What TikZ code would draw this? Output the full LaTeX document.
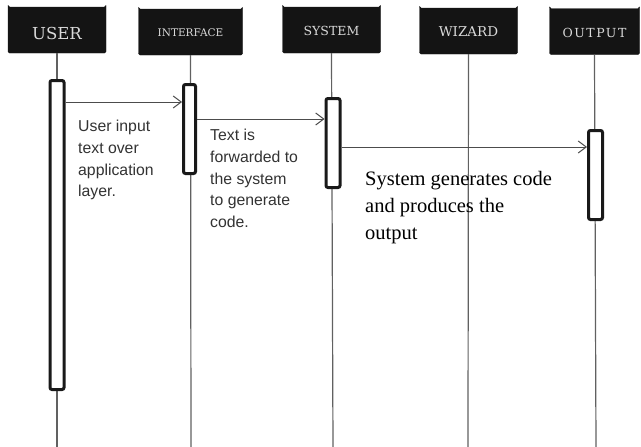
\documentclass[tikz,border=0pt]{standalone}
\usepackage{fontspec}
\usetikzlibrary{shapes.misc,arrows.meta}
\newfontfamily\bodysans{Liberation Sans}
\newfontfamily\bodyserif{Liberation Serif}
\newfontfamily\headserif{DejaVu Serif}
\newfontfamily\headspaced{DejaVu Serif}[LetterSpace=12]
\definecolor{headtext}{gray}{0.85}
\definecolor{lifegray}{gray}{0.38}
\definecolor{msggray}{gray}{0.30}
\begin{document}
\begin{tikzpicture}[x=1pt,y=-1pt,
  header/.style={chamfered rectangle, chamfered rectangle corners=north east,
    chamfered rectangle xsep=7pt, chamfered rectangle ysep=7pt,
    fill=black!92, draw=black!92, rounded corners=1.5pt, text=headtext,
    inner sep=0pt, minimum height=46pt},
  headlabel/.style={text=headtext, inner sep=0pt},
  activation/.style={draw=black!90, fill=white, line width=3pt, rounded corners=2pt,
    minimum width=14pt, inner sep=0pt},
  lifeline/.style={draw=lifegray, line width=1.2pt},
  msg/.style={draw=msggray, line width=1pt, -{Straight Barb[length=8pt,width=12pt,line width=1pt]}},
  note/.style={anchor=north west, inner sep=0pt, align=left, text=black!80,
    font=\bodysans\fontsize{15.8}{21.7}\selectfont},
  bignote/.style={anchor=north west, inner sep=0pt, align=left, text=black,
    font=\bodyserif\fontsize{20.5}{27}\selectfont}]

  % canvas
  \fill[white] (0,0) rectangle (641,447);
  \useasboundingbox (0,0) rectangle (641,447);

  % participant headers
  \node[header, minimum width=98pt] (user) at (57,30) {};
  \node[header, minimum width=104pt] (iface) at (190.5,32) {};
  \node[header, minimum width=98pt] (sys) at (331.5,30) {};
  \node[header, minimum width=98pt] (wiz) at (468.5,31) {};
  \node[header, minimum width=90pt] (out) at (594.5,31.5) {};

  % header captions, set slightly below the box centres
  \node[headlabel, font=\headserif\fontsize{16.5}{16.5}\selectfont] (userlbl) at ([yshift=-3pt]user.center) {USER};
  \node[headlabel, font=\headserif\fontsize{10.5}{10.5}\selectfont] (ifacelbl) at ([yshift=-1pt]iface.center) {INTERFACE};
  \node[headlabel, font=\headserif\fontsize{12.5}{12.5}\selectfont] (syslbl) at ([yshift=-1pt]sys.center) {SYSTEM};
  \node[headlabel, font=\headserif\fontsize{13.5}{13.5}\selectfont] (wizlbl) at ([yshift=-1pt]wiz.center) {WIZARD};
  \node[headlabel, font=\headspaced\fontsize{12.5}{12.5}\selectfont] (outlbl) at ([yshift=-1pt]out.center) {OUTPUT};

  % lifeline ends
  \coordinate (userend) at (57,447);
  \coordinate (ifaceend) at (191,447);
  \coordinate (sysend) at (333,447);
  \coordinate (wizend) at (468,447);
  \coordinate (outend) at (596,447);

  % lifelines
  \draw[lifeline] (user.south) -- (userend);
  \draw[lifeline] (iface.south) -- (ifaceend);
  \draw[lifeline] (sys.south) -- (sysend);
  \draw[lifeline] (wiz.south) -- (wizend);
  \draw[lifeline] (out.south) -- (outend);

  % activation bars
  \node[activation, minimum height=309pt] (ua) at (57,235) {};
  \node[activation, minimum height=89pt, minimum width=12pt] (ia) at (189.5,129) {};
  \node[activation, minimum height=89pt] (sa) at (333,143) {};
  \node[activation, minimum height=89pt] (oa) at (595.5,175) {};

  % messages
  \draw[msg] (ua.east |- 0,102) -- (ia.west |- 0,102);
  \draw[msg] (ia.east |- 0,119) -- (sa.west |- 0,119);
  \draw[msg] (sa.east |- 0,147) -- (oa.west |- 0,147);

  % message notes
  \node[note] (n1) at (78,120) {User input\\text over\\application\\layer.};
  \node[note] (n2) at (210,129) {Text is\\forwarded to\\the system\\to generate\\code.};
  \node[bignote] (n3) at (365,171.5) {System generates code\\and produces the\\output};
\end{tikzpicture}
\end{document}
